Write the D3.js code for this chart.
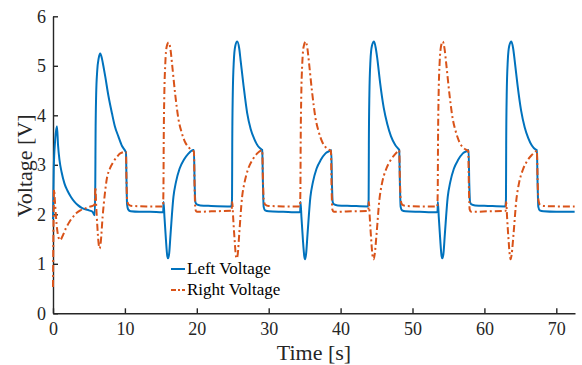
<!DOCTYPE html>
<html><head><meta charset="UTF-8"><script src="https://d3js.org/d3.v7.min.js"></script></head>
<body style="margin:0">
    <script>
        // Time ticks and voltage ticks
        const xTicks = [0, 10, 20, 30, 40, 50, 60, 70];
        const yTicks = [0, 1, 2, 3, 4, 5, 6];

        // Left voltage, [time s, volt V]
        const leftVoltage = [
            [0, 1.9], [0.1, 2.9], [0.3, 3.5], [0.55, 3.78], [0.7, 3.4], [0.9, 3.1], [1.2, 2.85], [1.6, 2.62],
            [2.0, 2.48], [2.5, 2.35], [3.0, 2.25], [3.5, 2.18], [4.0, 2.13], [4.5, 2.1], [5.0, 2.08], [5.5, 2.05], [5.8, 1.98],
            [5.88, 2.6], [5.92, 3.6], [6.0, 4.4], [6.15, 4.9], [6.35, 5.15], [6.57, 5.25], [6.8, 5.15], [7.0, 5.0],
            [7.27, 4.78], [7.7, 4.4], [8.2, 4.04], [8.6, 3.78], [9.1, 3.57], [9.6, 3.38], [10.05, 3.28], [10.15, 3.25],
            [10.22, 2.7], [10.3, 2.2], [10.45, 2.1], [10.8, 2.06], [12, 2.05], [13.5, 2.05], [15.2, 2.04],
            [15.33, 2.06], [15.38, 2.25], [15.5, 1.95], [15.7, 1.5], [15.9, 1.15], [16.0, 1.11], [16.15, 1.2], [16.35, 1.6],
            [16.75, 2.35], [17.1, 2.65], [17.6, 2.92], [18.2, 3.1], [18.8, 3.22], [19.5, 3.3], [19.6, 3.3],
            [19.7, 2.6], [19.8, 2.25], [20.0, 2.2], [20.5, 2.18], [22, 2.17], [24.8, 2.16],
            [24.9, 2.3], [24.93, 3.4], [25.0, 4.4], [25.15, 5.1], [25.35, 5.4], [25.62, 5.49], [25.9, 5.35], [26.1, 5.1],
            [26.5, 4.6], [27.0, 4.05], [27.5, 3.72], [28.0, 3.52], [28.5, 3.38], [29.0, 3.31], [29.1, 3.3],
            [29.2, 2.6], [29.3, 2.15], [29.5, 2.08], [30, 2.06], [32, 2.05], [34.3, 2.04],
            [34.38, 2.06], [34.43, 2.25], [34.55, 1.95], [34.75, 1.5], [34.95, 1.15], [35.05, 1.09], [35.2, 1.2], [35.4, 1.6],
            [35.8, 2.35], [36.15, 2.65], [36.65, 2.92], [37.25, 3.1], [37.9, 3.23], [38.6, 3.29], [38.7, 3.3],
            [38.8, 2.6], [38.9, 2.25], [39.1, 2.2], [39.6, 2.18], [41.5, 2.17], [43.8, 2.16],
            [43.9, 2.3], [43.93, 3.4], [44.0, 4.4], [44.15, 5.1], [44.35, 5.4], [44.65, 5.49], [44.9, 5.35], [45.1, 5.15],
            [45.5, 4.65], [46.0, 4.15], [46.5, 3.82], [47.0, 3.58], [47.6, 3.4], [48.1, 3.31], [48.15, 3.3],
            [48.25, 2.6], [48.35, 2.15], [48.55, 2.08], [49, 2.06], [51, 2.05], [53.4, 2.04],
            [53.48, 2.06], [53.53, 2.25], [53.65, 1.95], [53.85, 1.5], [54.05, 1.15], [54.15, 1.11], [54.3, 1.2], [54.5, 1.6],
            [54.9, 2.35], [55.25, 2.65], [55.75, 2.92], [56.35, 3.1], [57.0, 3.23], [57.7, 3.29], [57.8, 3.3],
            [57.9, 2.6], [58.0, 2.25], [58.2, 2.2], [58.7, 2.18], [60.5, 2.17], [62.9, 2.16],
            [63.0, 2.3], [63.03, 3.4], [63.1, 4.4], [63.25, 5.1], [63.45, 5.4], [63.75, 5.49], [64.0, 5.35], [64.2, 5.12],
            [64.6, 4.62], [65.1, 4.1], [65.6, 3.76], [66.1, 3.54], [66.6, 3.39], [67.1, 3.31], [67.3, 3.3],
            [67.4, 2.6], [67.5, 2.15], [67.7, 2.08], [68.2, 2.06], [70, 2.05], [72.55, 2.05]
        ];

        // Right voltage, [time s, volt V]
        const rightVoltage = [
            [0, 0.53], [0.05, 1.5], [0.15, 2.5], [0.25, 2.3], [0.5, 1.8], [0.8, 1.52], [1.0, 1.48], [1.3, 1.55],
            [1.8, 1.72], [2.3, 1.85], [2.8, 1.95], [3.3, 2.03], [3.8, 2.08], [4.5, 2.12], [5.0, 2.15], [5.5, 2.17], [5.8, 2.2],
            [5.9, 2.55], [6.0, 2.2], [6.15, 1.8], [6.35, 1.4], [6.48, 1.31], [6.65, 1.45], [6.9, 1.95], [7.2, 2.4],
            [7.5, 2.73], [7.9, 2.92], [8.4, 3.06], [8.9, 3.16], [9.35, 3.23], [10.05, 3.26], [10.15, 3.26],
            [10.22, 2.7], [10.3, 2.3], [10.5, 2.2], [11, 2.17], [13, 2.16], [15.3, 2.16],
            [15.36, 2.5], [15.4, 3.5], [15.48, 4.4], [15.62, 5.05], [15.8, 5.38], [16.08, 5.47], [16.35, 5.32], [16.55, 5.05],
            [17.0, 4.42], [17.45, 3.92], [17.9, 3.65], [18.4, 3.45], [18.9, 3.35], [19.5, 3.28], [19.6, 3.28],
            [19.7, 2.5], [19.8, 2.1], [20.0, 2.05], [20.5, 2.05], [22, 2.06], [24.85, 2.07],
            [24.93, 2.25], [25.05, 1.95], [25.25, 1.5], [25.45, 1.15], [25.55, 1.11], [25.7, 1.2], [25.9, 1.6],
            [26.3, 2.35], [26.65, 2.65], [27.15, 2.92], [27.75, 3.1], [28.4, 3.23], [29.05, 3.29], [29.1, 3.29],
            [29.2, 2.7], [29.3, 2.3], [29.5, 2.2], [30, 2.17], [32, 2.16], [34.35, 2.16],
            [34.41, 2.5], [34.45, 3.5], [34.53, 4.4], [34.67, 5.05], [34.85, 5.38], [35.13, 5.49], [35.4, 5.33], [35.6, 5.07],
            [36.05, 4.45], [36.5, 3.95], [36.95, 3.67], [37.45, 3.46], [37.95, 3.35], [38.55, 3.29], [38.65, 3.28],
            [38.75, 2.5], [38.85, 2.1], [39.05, 2.05], [39.5, 2.05], [41.5, 2.06], [43.85, 2.07],
            [43.93, 2.25], [44.05, 1.95], [44.25, 1.5], [44.45, 1.15], [44.6, 1.09], [44.75, 1.2], [45.0, 1.6],
            [45.4, 2.3], [45.75, 2.62], [46.3, 2.9], [46.9, 3.08], [47.5, 3.2], [48.05, 3.28], [48.15, 3.29],
            [48.25, 2.7], [48.35, 2.3], [48.55, 2.2], [49, 2.17], [51, 2.16], [53.45, 2.16],
            [53.51, 2.5], [53.55, 3.5], [53.63, 4.4], [53.77, 5.05], [53.95, 5.38], [54.2, 5.49], [54.47, 5.33], [54.67, 5.07],
            [55.12, 4.45], [55.57, 3.95], [56.02, 3.67], [56.52, 3.46], [57.02, 3.35], [57.65, 3.29], [57.75, 3.28],
            [57.85, 2.5], [57.95, 2.1], [58.15, 2.05], [58.6, 2.05], [60.5, 2.06], [62.95, 2.07],
            [63.03, 2.25], [63.15, 1.95], [63.35, 1.5], [63.55, 1.15], [63.65, 1.09], [63.8, 1.2], [64.05, 1.6],
            [64.45, 2.3], [64.8, 2.62], [65.35, 2.9], [65.95, 3.08], [66.6, 3.2], [67.2, 3.28], [67.3, 3.29],
            [67.4, 2.7], [67.5, 2.3], [67.7, 2.2], [68.2, 2.17], [70, 2.16], [72.55, 2.16]
        ];

        const seriesNames = ["Left Voltage", "Right Voltage"];
        const seriesColors = ["#0072BD", "#D95319"];

        const width = 582;
        const height = 365;
        const margin = {top: 16.3, right: 7, bottom: 51.7, left: 53};
        const serif = "Liberation Serif";

        const svg = d3.select("body")
            .append("svg")
            .attr("width", width)
            .attr("height", height)
            .attr("font-family", serif);

        const xScale = d3.scaleLinear()
            .domain([0, 72.6])
            .range([margin.left, width - margin.right]);

        const yScale = d3.scaleLinear()
            .domain([0, 6])
            .range([height - margin.bottom, margin.top]);

        const axisColor = "#262626";

        // Axes, ticks pointing inward like MATLAB
        const xAxis = svg.append("g")
            .attr("transform", `translate(0, ${yScale(0)})`)
            .call(d3.axisBottom(xScale).tickValues(xTicks).tickFormat(d3.format("d"))
                .tickSizeInner(-5).tickSizeOuter(0).tickPadding(9));

        const yAxis = svg.append("g")
            .attr("transform", `translate(${xScale(0)}, 0)`)
            .call(d3.axisLeft(yScale).tickValues(yTicks).tickFormat(d3.format("d"))
                .tickSizeInner(-5).tickSizeOuter(0).tickPadding(7));

        [xAxis, yAxis].forEach(ax => {
            ax.attr("font-family", serif).attr("font-size", 18);
            ax.select(".domain").attr("stroke", axisColor).attr("stroke-width", 1.4);
            ax.selectAll(".tick line").attr("stroke", axisColor).attr("stroke-width", 1.4);
            ax.selectAll(".tick text")
                .attr("fill", axisColor)
                .attr("font-family", serif)
                .style("font-family", `"${serif}"`)
                .style("font-size", "18px");
        });

        // Lines
        const line = d3.line()
            .x(d => xScale(d[0]))
            .y(d => yScale(d[1]))
            .curve(d3.curveMonotoneX);

        svg.append("path")
            .datum(leftVoltage)
            .attr("fill", "none")
            .attr("stroke", seriesColors[0])
            .attr("stroke-width", 2)
            .attr("stroke-linejoin", "round")
            .attr("d", line);

        svg.append("path")
            .datum(rightVoltage)
            .attr("fill", "none")
            .attr("stroke", seriesColors[1])
            .attr("stroke-width", 2)
            .attr("stroke-dasharray", "7,3,2,3")
            .attr("d", line);

        // Axis labels
        svg.append("text")
            .attr("x", (xScale(0) + xScale(72.6)) / 2)
            .attr("y", 360)
            .attr("text-anchor", "middle")
            .attr("fill", axisColor)
            .attr("font-family", serif)
            .style("font-family", `"${serif}"`)
            .style("font-size", "22px")
            .text("Time [s]");

        svg.append("text")
            .attr("transform", `translate(32, ${yScale(3) + 1}) rotate(-90)`)
            .attr("text-anchor", "middle")
            .attr("fill", axisColor)
            .attr("font-family", serif)
            .style("font-family", `"${serif}"`)
            .style("font-size", "22px")
            .text("Voltage [V]");

        // Legend (no box)
        const legend = svg.append("g")
            .attr("transform", "translate(171, 269)");

        seriesNames.forEach((name, i) => {
            const row = legend.append("g").attr("transform", `translate(0, ${i * 21})`);
            row.append("line")
                .attr("x1", 0).attr("x2", 14)
                .attr("y1", 0).attr("y2", 0)
                .attr("stroke", seriesColors[i])
                .attr("stroke-width", 2)
                .attr("stroke-dasharray", i === 1 ? "5,2,2,2" : null);
            row.append("text")
                .attr("x", 16)
                .attr("y", 5)
                .attr("fill", "#000")
                .attr("font-family", serif)
                .style("font-family", `"${serif}"`)
                .style("font-size", "17px")
                .text(name);
        });
    </script>
</body>
</html>
